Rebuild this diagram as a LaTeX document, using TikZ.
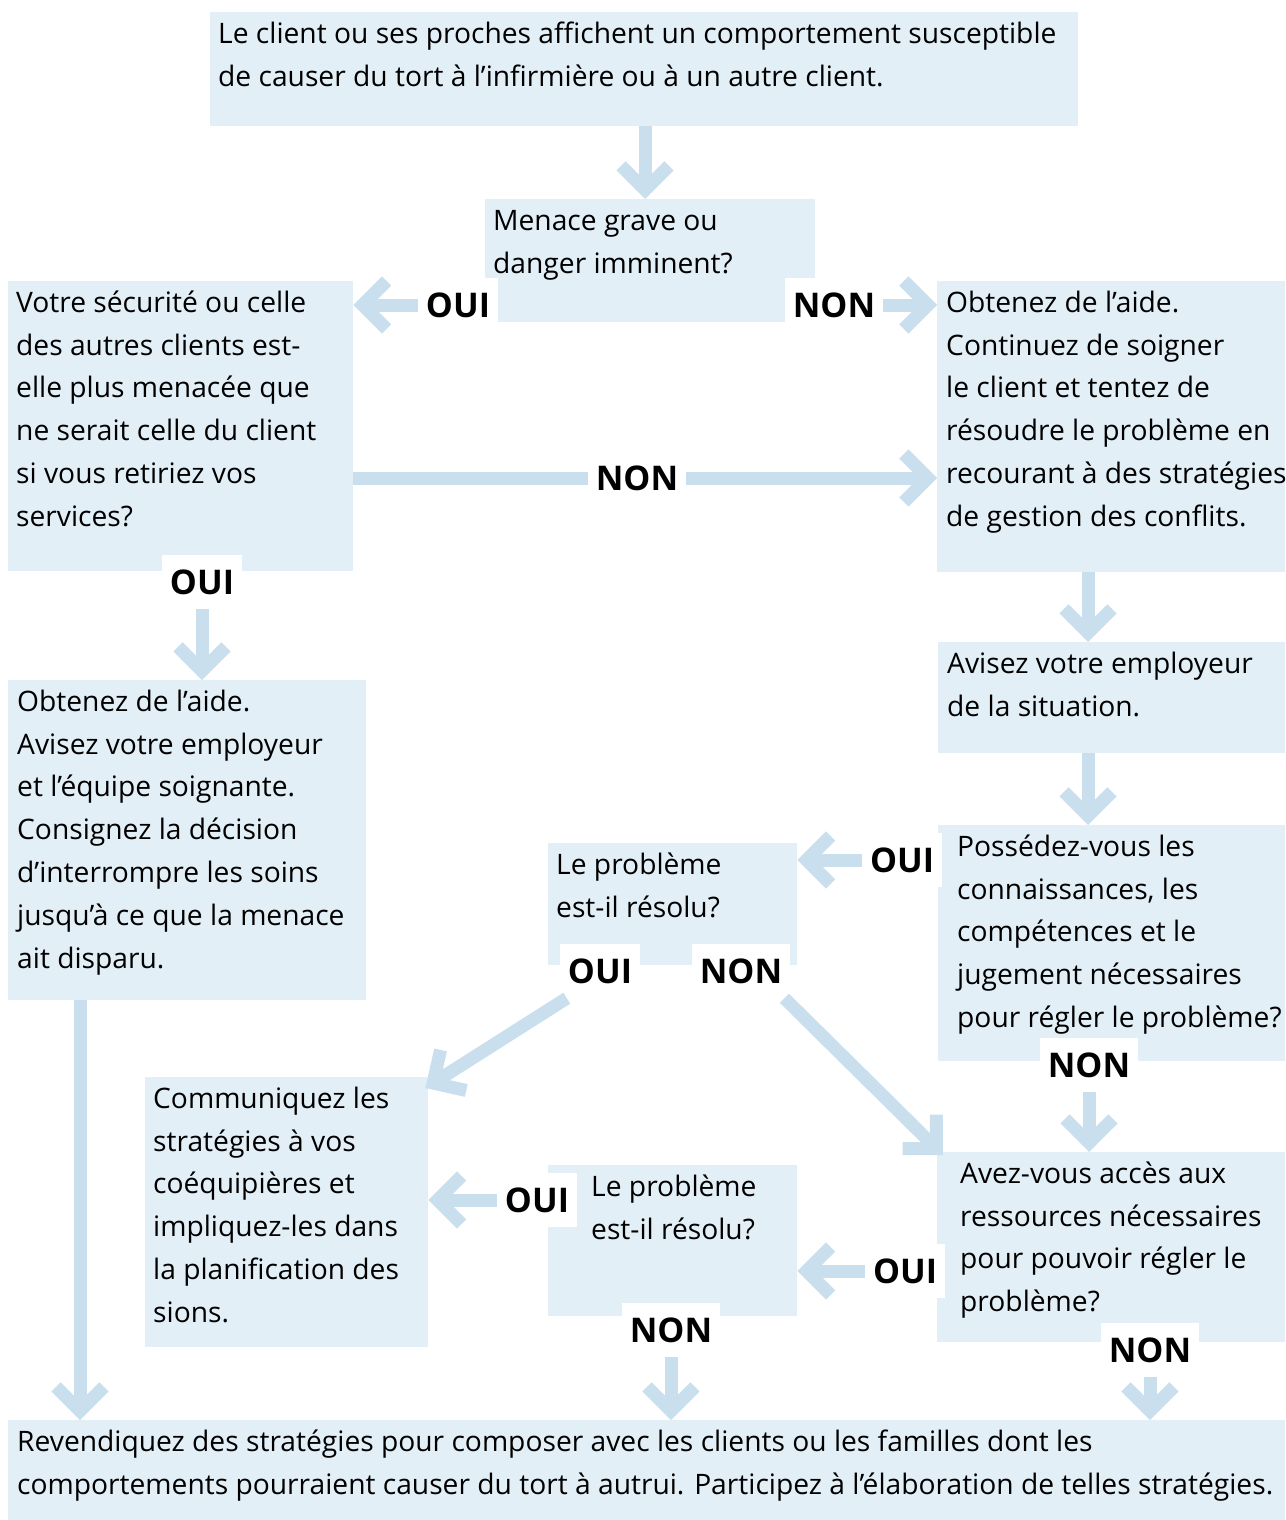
\documentclass[tikz,border=0pt]{standalone}
\usepackage{fontspec}
\setmainfont{Open Sans}
\usetikzlibrary{arrows.meta,calc}
\definecolor{boxc}{RGB}{227,239,247}
\definecolor{arrc}{RGB}{201,223,238}
\tikzset{
  box/.style={fill=boxc, draw=none, inner sep=0pt, anchor=north west},
  txt/.style={anchor=north west, inner sep=0pt, align=left, text=black,
    font=\fontsize{28.2pt}{42.8pt}\selectfont},
  lbl/.style={fill=white, inner xsep=8pt, inner ysep=0pt, minimum height=54pt,
    font=\fontsize{34pt}{40pt}\selectfont\bfseries},
  arr/.style={draw=arrc, line width=13pt, -{Straight Barb[length=24pt, width=48pt]}},
  seg/.style={draw=arrc, line width=13pt},
}
\newcommand\st{\rule{0pt}{26pt}}
\begin{document}
\begin{tikzpicture}[x=1pt,y=-1pt]
\useasboundingbox (0,0) rectangle (1285,1520);
% boxes
\node[box,minimum width=868pt,minimum height=114pt] (A) at (210,12) {};
\node[box,minimum width=330pt,minimum height=123pt] (B) at (485,199) {};
\node[box,minimum width=345pt,minimum height=290pt] (C) at (8,281) {};
\node[box,minimum width=348pt,minimum height=291pt] (D) at (937,281) {};
\node[box,minimum width=347pt,minimum height=111pt] (E) at (938,642) {};
\node[box,minimum width=347pt,minimum height=236pt] (F) at (938,825) {};
\node[box,minimum width=249pt,minimum height=122pt] (G) at (548,843) {};
\node[box,minimum width=283pt,minimum height=270pt] (H) at (145,1077) {};
\node[box,minimum width=249pt,minimum height=151pt] (I) at (548,1165) {};
\node[box,minimum width=348pt,minimum height=190pt] (J) at (937,1152) {};
\node[box,minimum width=1277pt,minimum height=100pt] (K) at (8,1420) {};
\node[box,minimum width=358pt,minimum height=320pt] (L) at (8,680) {};
% texts
\node[txt] (At) at (218,17) {\st Le client ou ses proches affichent un comportement susceptible\\de causer du tort à l’infirmière ou à un autre client.};
\node[txt] (Bt) at (493,204) {\st Menace grave ou\\danger imminent?};
\node[txt] (Ct) at (16,286) {\st Votre sécurité ou celle\\des autres clients est-\\elle plus menacée que\\ne serait celle du client\\si vous retiriez vos\\services?};
\node[txt] (Dt) at (946,286) {\st Obtenez de l’aide.\\Continuez de soigner\\le client et tentez de\\résoudre le problème en\\recourant à des stratégies\\de gestion des conflits.};
\node[txt] (Et) at (947,647) {\st Avisez votre employeur\\de la situation.};
\node[txt] (Ft) at (957,830) {\st Possédez-vous les\\connaissances, les\\compétences et le\\jugement nécessaires\\pour régler le problème?};
\node[txt] (Gt) at (556,848) {\st Le problème\\est-il résolu?};
\node[txt] (Ht) at (153,1082) {\st Communiquez les\\stratégies à vos\\coéquipières et\\impliquez-les dans\\la planification des\\sions.};
\node[txt] (It) at (591,1170) {\st Le problème\\est-il résolu?};
\node[txt] (Jt) at (960,1157) {\st Avez-vous accès aux\\ressources nécessaires\\pour pouvoir régler le\\problème?};
\node[txt] (Kt) at (17,1425) {\st Revendiquez des stratégies pour composer avec les clients ou les familles dont les\\comportements pourraient causer du tort à autrui. Participez à l’élaboration de telles stratégies.};
\node[txt] (Lt) at (17,685) {\st Obtenez de l’aide.\\Avisez votre employeur\\et l’équipe soignante.\\Consignez la décision\\d’interrompre les soins\\jusqu’à ce que la menace\\ait disparu.};
% labels
\node[lbl] (OUIa) at (458,305) {OUI};
\node[lbl] (NONa) at (834,305) {NON};
\node[lbl] (NONb) at (637,478) {NON};
\node[lbl] (OUIb) at (202,582) {OUI};
\node[lbl] (OUIc) at (902,860) {OUI};
\node[lbl] (NONc) at (1089,1065) {NON};
\node[lbl] (OUId) at (600,971) {OUI};
\node[lbl] (NONd) at (741,971) {NON};
\node[lbl] (OUIe) at (537,1200) {OUI};
\node[lbl] (OUIf) at (905,1271) {OUI};
\node[lbl] (NONe) at (671,1330) {NON};
\node[lbl] (NONf) at (1150,1350) {NON};
% helper coordinates
\coordinate (a1) at ($(A.south west)+(435,0)$);
\coordinate (d1) at ($(D.south west)+(151,0)$);
\coordinate (e1) at ($(E.south west)+(150,0)$);
\coordinate (l1) at ($(L.south west)+(72,0)$);
\coordinate (hc) at ($(H.north east)+(-3,11)$);
\coordinate (jc) at ($(J.north west)+(6,3)$);
\coordinate (ds) at ($(OUId.south west)+(7,0)$);
\coordinate (ns) at ($(NONd.south east)+(-6,0)$);
% connectors
\draw[arr] (a1) -- (a1 |- B.north);
\draw[arr] (OUIa.west) -- (OUIa.west -| C.east);
\draw[arr] (NONa.east) -- (NONa.east -| D.west);
\draw[seg] (C.east |- NONb.west) -- (NONb.west);
\draw[arr] (NONb.east) -- (NONb.east -| D.west);
\draw[arr] (OUIb.south) -- (OUIb.south |- L.north);
\draw[arr] (d1) -- (d1 |- E.north);
\draw[arr] (e1) -- (e1 |- F.north);
\draw[arr] (OUIc.west) -- (OUIc.west -| G.east);
\draw[arr] (NONc.south) -- (NONc.south |- J.north);
\draw[arr] (ds) -- (hc);
\draw[arr] (ns) -- (jc);
\draw[arr] (OUIe.west) -- (OUIe.west -| H.east);
\draw[arr] (OUIf.west) -- (OUIf.west -| I.east);
\draw[arr] (NONe.south) -- (NONe.south |- K.north);
\draw[arr] (NONf.south) -- (NONf.south |- K.north);
\draw[arr] (l1) -- (l1 |- K.north);
\end{tikzpicture}
\end{document}
